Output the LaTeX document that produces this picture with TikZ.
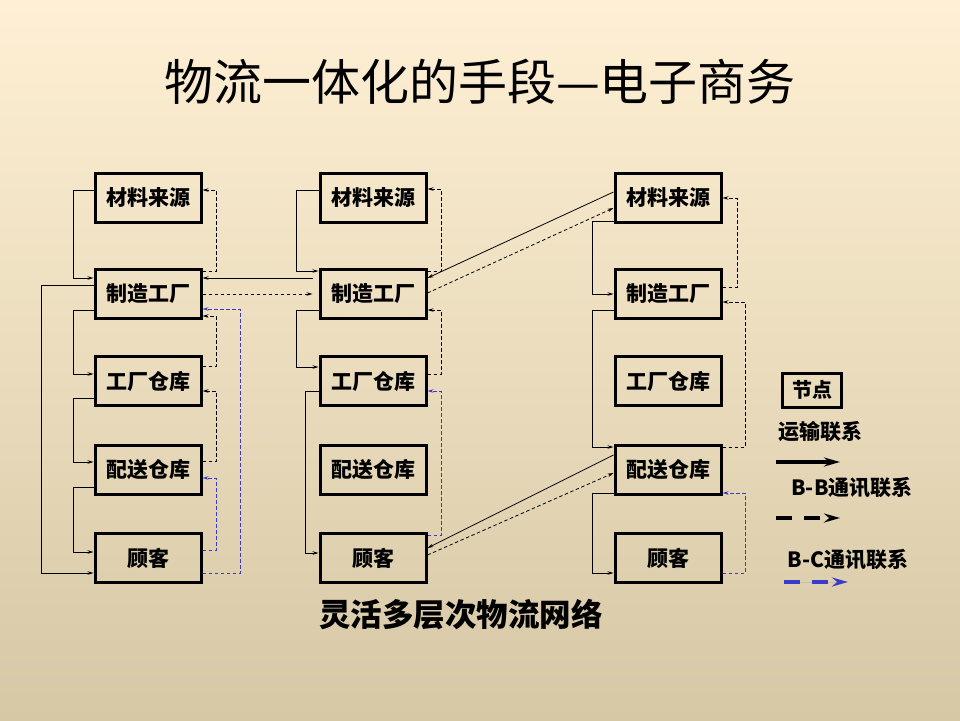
\documentclass[tikz,border=0pt]{standalone}
\usepackage{fontspec}
\newfontfamily\cjk{Noto Sans CJK SC}
\usetikzlibrary{arrows.meta}
\definecolor{bgtop}{HTML}{FFF0D5}
\definecolor{bgmid}{HTML}{F3EBD5}
\definecolor{bgbot}{HTML}{D6C8A5}
\definecolor{bcblue}{HTML}{3A3ACC}
\begin{document}
\begin{tikzpicture}[x=1pt,y=-1pt,
  nodebox/.style={draw=black,line width=3pt,minimum width=106pt,minimum height=49pt,inner sep=0pt,
    font=\cjk\bfseries\fontsize{21}{24}\selectfont},
  tr/.style={line width=0.8pt,-{Stealth[length=6pt,width=3.5pt]}},
  bb/.style={line width=0.8pt,dash pattern=on 3.5pt off 2.5pt,-{Stealth[length=6pt,width=3.5pt]}},
  bc/.style={line width=0.8pt,draw=bcblue,dash pattern=on 3.5pt off 2.5pt,-{Stealth[length=6pt,width=3.5pt]}},
  lbl/.style={font=\cjk\bfseries\fontsize{21}{24}\selectfont,inner sep=0pt},
  keyarrow/.style={line width=3.5pt,-{Stealth[length=16pt,width=9pt]}}]
\useasboundingbox (0,0) rectangle (960,720);
\shade[top color=bgtop,middle color=bgmid,bottom color=bgbot] (0,0) rectangle (960,720);
\node[font=\cjk\fontsize{49}{54}\selectfont] (title) at (480,82) {物流一体化的手段—电子商务};
% boxes
\foreach \c/\x in {L/148,M/373,R/668}{
  \node[nodebox] (\c1) at (\x,198) {材料来源};
  \node[nodebox] (\c2) at (\x,294) {制造工厂};
  \node[nodebox] (\c3) at (\x,381) {工厂仓库};
  \node[nodebox] (\c4) at (\x,470) {配送仓库};
  \node[nodebox] (\c5) at (\x,558) {顾客};
}
\node[lbl,font=\cjk\bfseries\fontsize{31.5}{36}\selectfont] (caption) at (461,614) {灵活多层次物流网络};
% left column
\draw[tr] ([yshift=8pt]L1.west) -- (73,190) |- ([yshift=16pt]L2.west);
\draw[tr] ([yshift=9pt]L2.west) -- (41,285) |- ([yshift=-15pt]L5.west);
\draw[tr] ([yshift=-16pt]L2.west) -- (73,310) |- ([yshift=7pt]L3.west);
\draw[tr] ([yshift=-17pt]L3.west) -- (73,398) |- ([yshift=8pt]L4.west);
\draw[tr] ([yshift=-17pt]L4.west) -- (73,487) |- ([yshift=6pt]L5.west);
\draw[bb] ([yshift=23pt]L2.east) -- (216,271) |- ([yshift=8pt]L1.east);
\draw[bb] ([yshift=15pt]L3.east) -- (216,366) |- ([yshift=-22pt]L2.east);
\draw[bb] ([yshift=9pt]L4.east) -- (216,461) |- ([yshift=-10pt]L3.east);
\draw[bc] ([yshift=8pt]L5.east) -- (216,550) |- ([yshift=-8pt]L4.east);
\draw[bc] ([yshift=-15pt]L5.east) -- (240,573) |- ([yshift=-15pt]L2.east);
% between left and middle
\coordinate (m2a) at ([xshift=-6pt,yshift=16pt]M2.west);
\coordinate (m2b) at ([xshift=-6pt]M2.west);
\draw[tr] (m2a) -- ([yshift=16pt]L2.east);
\draw[bb] (L2.east) -- (m2b);
% middle column
\draw[tr] ([yshift=8pt]M1.west) -- (296,190) |- ([yshift=23pt]M2.west);
\draw[tr] ([yshift=-16pt]M2.west) -- (296,310) |- ([yshift=14pt]M3.west);
\draw[tr] ([yshift=-10pt]M3.west) -- (305,391) |- ([yshift=5pt]M5.west);
\draw[bb] ([yshift=23pt]M2.east) -- (441,271) |- ([yshift=9pt]M1.east);
\draw[bb] ([yshift=7pt]M3.east) -- (441,374) |- ([yshift=-16pt]M2.east);
\draw[bc] ([yshift=23pt]M5.east) -- (441,535) |- ([yshift=-10pt]M3.east);
% cross links
\draw[tr] ([yshift=6pt]R1.west) -- ([yshift=16pt]M2.east);
\draw[bb] ([yshift=1pt]M2.east) -- ([yshift=-10pt]R1.west);
\draw[tr] ([yshift=15pt]R4.west) -- ([yshift=10pt]M5.east);
\draw[bb] ([yshift=3pt]M5.east) -- ([yshift=-3pt]R4.west);
% right column
\draw[tr] ([yshift=-23pt]R1.west) -- (592,221) |- (R2.west);
\draw[tr] ([yshift=-16pt]R2.west) -- (592,310) |- ([yshift=23pt]R4.west);
\draw[tr] ([yshift=-23pt]R4.west) -- (592,493) |- ([yshift=-15pt]R5.west);
\draw[bb] ([yshift=7pt]R2.east) -- (737,287) |- (R1.east);
\draw[bb] ([yshift=23pt]R4.east) -- (745,447) |- ([yshift=-8pt]R2.east);
\draw[bc] ([yshift=-15pt]R5.east) -- (745,573) |- ([yshift=-23pt]R4.east);
% legend
\node[draw=black,line width=3pt,minimum width=59pt,minimum height=34pt,inner sep=0pt,
  font=\cjk\bfseries\fontsize{20}{22}\selectfont] (key) at (812,390) {节点};
\node[lbl] (ltr) at (820,432) {运输联系};
\coordinate (a1) at (776,462); \coordinate (a2) at (840,462);
\draw[keyarrow] (a1) -- (a2);
\node[lbl] (lbb) at (852,488) {B-B通讯联系};
\coordinate (b1) at (776,518); \coordinate (b2) at (840,518);
\draw[keyarrow,dash pattern=on 16pt off 12pt] (b1) -- (b2);
\node[lbl] (lbc) at (848,560) {B-C通讯联系};
\coordinate (c1) at (784,582); \coordinate (c2) at (848,582);
\draw[keyarrow,draw=bcblue,fill=bcblue,dash pattern=on 16pt off 12pt] (c1) -- (c2);
\end{tikzpicture}
\end{document}
